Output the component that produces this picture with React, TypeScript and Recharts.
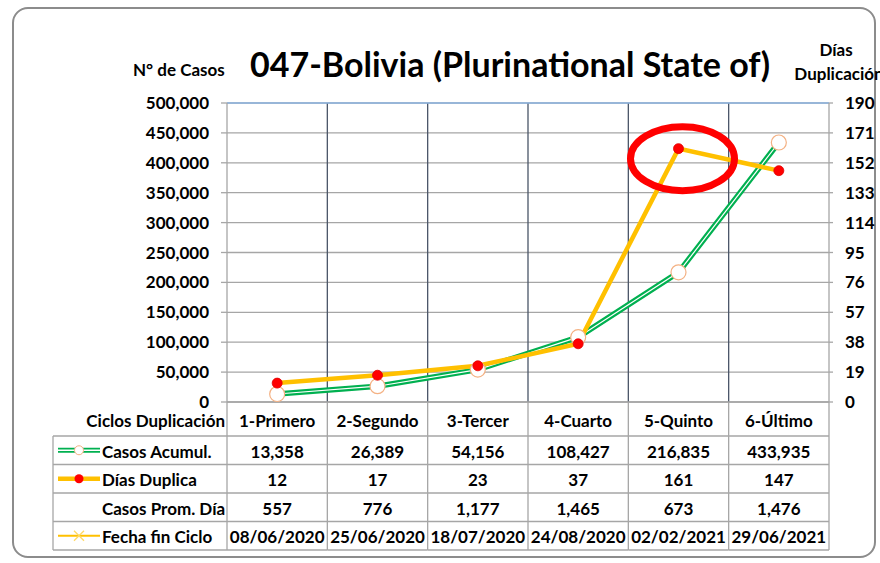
import React from "react";
import {
  ComposedChart,
  Line,
  XAxis,
  YAxis,
  CartesianGrid,
  ReferenceLine,
  ReferenceDot,
} from "recharts";

const ciclos = ["1-Primero", "2-Segundo", "3-Tercer", "4-Cuarto", "5-Quinto", "6-Último"];
const casosAcumul = [13358, 26389, 54156, 108427, 216835, 433935];
const diasDuplica = [12, 17, 23, 37, 161, 147];
const casosPromDia = [557, 776, 1177, 1465, 673, 1476];
const fechaFinCiclo = ["08/06/2020", "25/06/2020", "18/07/2020", "24/08/2020", "02/02/2021", "29/06/2021"];
const rowNames = ["Casos Acumul.", "Días Duplica", "Casos Prom. Día", "Fecha fin Ciclo"];
const casosTicks = [0, 50000, 100000, 150000, 200000, 250000, 300000, 350000, 400000, 450000, 500000];
const diasTicks = [0, 19, 38, 57, 76, 95, 114, 133, 152, 171, 190];

const FONT = "Lato, 'Open Sans', sans-serif";
const W = 880;
const H = 563;
const LEFT_AXIS_W = 227;
const RIGHT_AXIS_W = 51;
const COL_W = (W - LEFT_AXIS_W - RIGHT_AXIS_W) / ciclos.length;
const LABEL_W = 174;
const HEADER_H = 34;
const ROW_H = 28.5;
const GRID = "#A6A6A6";

const data = ciclos.map((c, i) => ({
  ciclo: c,
  casos: casosAcumul[i],
  dias: diasDuplica[i],
}));

const fmt = (v: number) => v.toLocaleString("en-US");

const baseText = {
  fontFamily: FONT,
  fontWeight: 700,
  fontSize: 17,
  fill: "#000",
};
const textProps = { ...baseText, dominantBaseline: "central" as const };

function LegendKey({ i, cx, cy }: { i: number; cx: number; cy: number }) {
  if (i === 0)
    return (
      <g>
        <line x1={cx - 21} x2={cx + 21} y1={cy} y2={cy} stroke="#00B050" strokeWidth={5} />
        <line x1={cx - 21} x2={cx + 21} y1={cy} y2={cy} stroke="#fff" strokeWidth={1.3} />
        <circle cx={cx} cy={cy} r={4.5} fill="#fff" stroke="#F4B183" strokeWidth={1} />
      </g>
    );
  if (i === 1)
    return (
      <g>
        <line x1={cx - 21} x2={cx + 21} y1={cy} y2={cy} stroke="#FFC000" strokeWidth={4.5} />
        <circle cx={cx} cy={cy} r={4.5} fill="#FF0000" />
      </g>
    );
  if (i === 3)
    return (
      <g>
        <line x1={cx - 21} x2={cx + 21} y1={cy} y2={cy} stroke="#FFC000" strokeWidth={2} />
        <path d={`M${cx - 5},${cy - 5}L${cx + 5},${cy + 5}M${cx - 5},${cy + 5}L${cx + 5},${cy - 5}`} stroke="#FFD966" strokeWidth={1.3} />
      </g>
    );
  return null;
}

function TableColumn(props: any) {
  const { x, y, index } = props;
  const left = x - COL_W / 2;
  const right = x + COL_W / 2;
  const bottom = y + HEADER_H + ROW_H * 4;
  const values = [
    fmt(casosAcumul[index]),
    String(diasDuplica[index]),
    fmt(casosPromDia[index]),
    fechaFinCiclo[index],
  ];
  const rowLines = [0, 1, 2, 3, 4].map((k) => y + HEADER_H + k * ROW_H);
  return (
    <g>
      <text {...textProps} x={x} y={y + HEADER_H / 2 + 1} textAnchor="middle">
        {ciclos[index]}
      </text>
      {values.map((v, k) => (
        <text key={k} {...textProps} x={x} y={y + HEADER_H + ROW_H * k + ROW_H / 2 + 1} textAnchor="middle">
          {v}
        </text>
      ))}
      {rowLines.map((ly, k) => (
        <line key={k} x1={left} x2={right} y1={ly} y2={ly} stroke={GRID} strokeWidth={1.3} />
      ))}
      <line x1={right} x2={right} y1={y} y2={bottom} stroke={GRID} strokeWidth={1.3} />
      {index === 0 && (
        <g>
          <line x1={left} x2={left} y1={y} y2={bottom} stroke={GRID} strokeWidth={1.3} />
          <line x1={left - LABEL_W} x2={left - LABEL_W} y1={y + HEADER_H} y2={bottom} stroke={GRID} strokeWidth={1.3} />
          {rowLines.map((ly, k) => (
            <line key={k} x1={left - LABEL_W} x2={left} y1={ly} y2={ly} stroke={GRID} strokeWidth={1.3} />
          ))}
          <text {...textProps} x={left - 2} y={y + HEADER_H / 2 + 1} textAnchor="end">
            Ciclos Duplicación
          </text>
          {rowNames.map((n, k) => {
            const cy = y + HEADER_H + ROW_H * k + ROW_H / 2;
            return (
              <g key={k}>
                <LegendKey i={k} cx={left - LABEL_W + 26} cy={cy} />
                <text {...textProps} x={left - LABEL_W + 49} y={cy + 1} textAnchor="start">
                  {n}
                </text>
              </g>
            );
          })}
        </g>
      )}
    </g>
  );
}

const GreenDot = (p: any) => (
  <circle key={p.index} cx={p.cx} cy={p.cy} r={7.5} fill="#fff" stroke="#F4B183" strokeWidth={1.2} />
);
const RedDot = (p: any) => (
  <circle key={p.index} cx={p.cx} cy={p.cy} r={5} fill="#FF0000" stroke="#E00000" strokeWidth={0.8} />
);

export default function App() {
  return (
    <div style={{ position: "fixed", left: 0, top: 0, width: W, height: H, background: "#fff", fontFamily: FONT }}>
      <div
        style={{
          position: "absolute",
          left: 12,
          top: 7,
          width: 864,
          height: 551,
          border: "2px solid #8C8C8C",
          borderRadius: 16,
          boxSizing: "border-box",
        }}
      />
      <div style={{ position: "absolute", left: 0, top: 0, width: W, height: H, overflow: "hidden" }}>
        <div style={{ position: "absolute", left: 230, top: 42, width: 560, textAlign: "center", fontSize: 34, lineHeight: "44px", fontWeight: 700, whiteSpace: "nowrap" }}>
          047-Bolivia (Plurinational State of)
        </div>
        <div style={{ position: "absolute", left: 133, top: 59, fontSize: 17, fontWeight: 700, whiteSpace: "nowrap" }}>
          N° de Casos
        </div>
        <div style={{ position: "absolute", left: 786, top: 38, width: 100, textAlign: "center", fontSize: 17, fontWeight: 700, lineHeight: "24px", whiteSpace: "nowrap" }}>
          Días
          <br />
          <span style={{ marginLeft: 6 }}>Duplicación</span>
        </div>
        <ComposedChart
          width={W}
          height={H}
          data={data}
          margin={{ top: 103, right: 0, bottom: 0, left: 0 }}
          style={{ position: "absolute", left: 0, top: 0 }}
        >
          <CartesianGrid
            yAxisId="left"
            stroke={GRID}
            strokeWidth={1.3}
            horizontal={true}
            vertical={false}
          />
          <CartesianGrid
            yAxisId="left"
            horizontal={false}
            stroke="#4A5568"
            strokeWidth={1.3}
            verticalCoordinatesGenerator={({ offset }: any) =>
              ciclos.slice(1).map((_, i) => offset.left + ((i + 1) * offset.width) / ciclos.length)
            }
          />
          <XAxis
            dataKey="ciclo"
            scale="band"
            height={161}
            tickSize={0}
            tickMargin={0}
            axisLine={{ stroke: GRID, strokeWidth: 1.3 }}
            tick={<TableColumn />}
            interval={0}
          />
          <YAxis
            yAxisId="left"
            width={LEFT_AXIS_W}
            domain={[0, 500000]}
            ticks={casosTicks}
            tickFormatter={fmt}
            tickSize={6}
            tickMargin={12}
            axisLine={{ stroke: GRID, strokeWidth: 1.3 }}
            tickLine={{ stroke: GRID, strokeWidth: 1.3 }}
            tick={{ ...baseText }}
            interval={0}
          />
          <YAxis
            yAxisId="right"
            orientation="right"
            width={RIGHT_AXIS_W}
            domain={[0, 190]}
            ticks={diasTicks}
            tickSize={4}
            tickMargin={12}
            axisLine={{ stroke: GRID, strokeWidth: 1.3 }}
            tickLine={{ stroke: GRID, strokeWidth: 1.3 }}
            tick={{ ...baseText }}
            interval={0}
          />
          <ReferenceLine yAxisId="left" y={500000} stroke="#8DB4E2" strokeWidth={1.5} />
          <Line
            yAxisId="left"
            dataKey="casos"
            stroke="#00B050"
            strokeWidth={5.5}
            dot={false}
            activeDot={false}
            isAnimationActive={false}
          />
          <Line
            yAxisId="left"
            dataKey="casos"
            stroke="#fff"
            strokeWidth={1.2}
            dot={<GreenDot />}
            activeDot={false}
            isAnimationActive={false}
          />
          <Line
            yAxisId="right"
            dataKey="dias"
            stroke="#FFC000"
            strokeWidth={4.5}
            dot={<RedDot />}
            activeDot={false}
            isAnimationActive={false}
          />
          <ReferenceDot
            yAxisId="right"
            x="5-Quinto"
            y={161}
            ifOverflow="visible"
            shape={(p: any) => (
              <ellipse cx={p.cx + 4} cy={p.cy + 10} rx={52} ry={32} fill="none" stroke="#FF0000" strokeWidth={7} />
            )}
          />
        </ComposedChart>
      </div>
    </div>
  );
}
